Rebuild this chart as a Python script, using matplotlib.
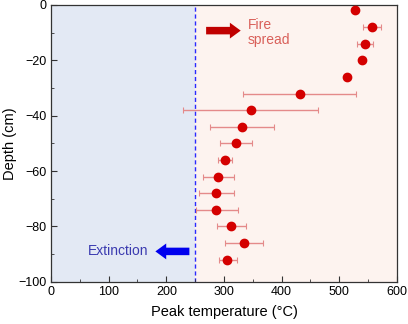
import matplotlib
matplotlib.use("Agg")
import matplotlib.pyplot as plt

# dados
profundidade = [-2, -8, -14, -20, -26, -32, -38, -44, -50, -56, -62, -68, -74, -80, -86, -92]
temperatura = [528, 557, 545, 539, 514, 431, 346, 331, 320, 302, 290, 287, 287, 313, 335, 306]
erro_esq = [0, 16, 14, 0, 4, 98, 117, 55, 27, 12, 27, 30, 35, 25, 33, 15]
erro_dir = [0, 15, 13, 0, 4, 98, 117, 56, 28, 12, 27, 31, 38, 25, 33, 17]
limite_extincao = 250

plt.rcParams["font.family"] = ["Liberation Sans", "DejaVu Sans"]
plt.rcParams["font.size"] = 9

fig = plt.figure(figsize=(4.08, 3.24), dpi=100)
ax = fig.add_axes([0.125, 0.13, 0.848, 0.855])

ax.axvspan(0, limite_extincao, color="#e3e9f4", zorder=0)
ax.axvspan(limite_extincao, 600, color="#fdf3ef", zorder=0)
ax.axvline(limite_extincao, color="#2a2aff", linestyle=(0, (3, 2)), linewidth=1.0, zorder=1)

ax.errorbar(
    temperatura,
    profundidade,
    xerr=[erro_esq, erro_dir],
    fmt="o",
    color="#d40000",
    markersize=6,
    ecolor="#e48a8a",
    elinewidth=1.0,
    capsize=2.5,
    capthick=0.8,
    zorder=3,
)

# setas
estilo = "simple,head_length=0.65,head_width=0.95,tail_width=0.45"
ax.annotate("", xy=(329, -9.3), xytext=(269, -9.3),
            arrowprops=dict(arrowstyle=estilo, color="#c00000", lw=0,
                            mutation_scale=12, shrinkA=0, shrinkB=0))
ax.text(341, -10, "Fire\nspread", color="#d9605a", fontsize=10, ha="left", va="center",
        linespacing=1.1)
ax.annotate("", xy=(181, -89), xytext=(240, -89),
            arrowprops=dict(arrowstyle=estilo, color="#0000ee", lw=0,
                            mutation_scale=12, shrinkA=0, shrinkB=0))
ax.text(169, -89, "Extinction", color="#3b3bb0", fontsize=10, ha="right", va="center")

ax.set_xlim(0, 600)
ax.set_ylim(-100, 0)
ax.set_xticks([0, 100, 200, 300, 400, 500, 600])
ax.set_xticks([50, 150, 250, 350, 450, 550], minor=True)
ax.set_yticks([0, -20, -40, -60, -80, -100])
ax.set_yticks([-10, -30, -50, -70, -90], minor=True)
ax.tick_params(which="both", direction="in", top=False, right=False, color="#333333")
ax.tick_params(which="major", length=4, pad=3)
ax.tick_params(which="minor", length=2.5)
for s in ax.spines.values():
    s.set_color("#333333")
    s.set_linewidth(0.9)

ax.set_xlabel("Peak temperature (°C)", fontsize=10.5, labelpad=5)
ax.set_ylabel("Depth (cm)", fontsize=10.5, labelpad=1)

fig.savefig("out.png", dpi=100)
